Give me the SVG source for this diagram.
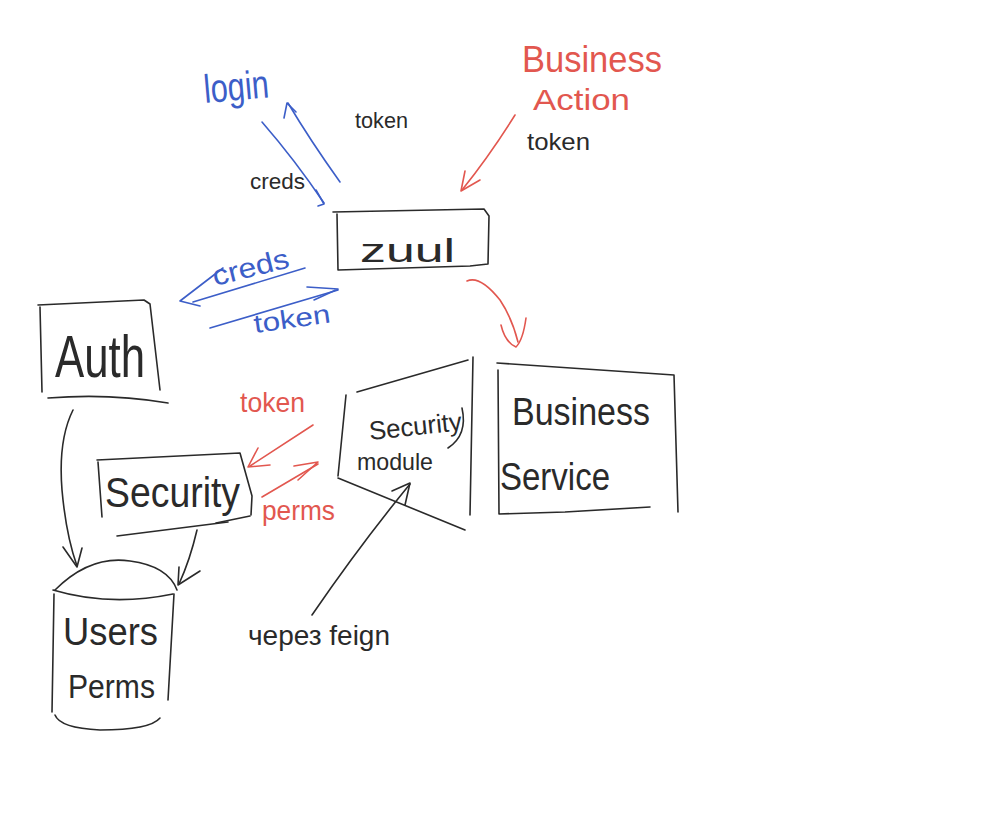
<svg xmlns="http://www.w3.org/2000/svg" width="1000" height="817" viewBox="0 0 1000 817">
<style>
.k{fill:none;stroke:#2a2a2a;stroke-width:1.6;stroke-linecap:round;stroke-linejoin:round}
.b{fill:none;stroke:#3c5ec8;stroke-width:1.6;stroke-linecap:round;stroke-linejoin:round}
.r{fill:none;stroke:#e2574f;stroke-width:1.6;stroke-linecap:round;stroke-linejoin:round}
text{font-family:"Liberation Sans","DejaVu Sans",sans-serif}
.tk{fill:#2a2a2a}
.tb{fill:#3c5ec8}
.tr{fill:#e2574f}
</style>
<rect width="1000" height="817" fill="#ffffff"/>

<g id="zuul">
<path class="k" d="M333 212 L484 209 L489 216 L488 264 L470 266 L338 270 L337 214"/>
<text class="tk" x="360" y="262" font-size="34" textLength="95" lengthAdjust="spacingAndGlyphs">zuul</text>
</g>

<g id="auth">
<path class="k" d="M38 305 L144 300 L150 304 L160 390"/>
<path class="k" d="M40 307 L42 392"/>
<path class="k" d="M48 398 Q110 393 168 403"/>
<text class="tk" x="55" y="377" font-size="60" textLength="90" lengthAdjust="spacingAndGlyphs">Auth</text>
</g>

<g id="security">
<path class="k" d="M97 460 L240 453 L252 496 L251 515"/>
<path class="k" d="M98 462 L102 517"/>
<path class="k" d="M117 536 L228 522"/>
<path class="k" d="M216 523 L250 516"/>
<text class="tk" x="105" y="507" font-size="42" textLength="135" lengthAdjust="spacingAndGlyphs">Security</text>
</g>

<g id="users-perms">
<path class="k" d="M55 590 Q90 555 130 561 Q168 566 177 590"/>
<path class="k" d="M53 590 Q110 607 173 594"/>
<path class="k" d="M54 594 L52 712"/>
<path class="k" d="M174 594 L168 700"/>
<path class="k" d="M55 715 Q60 728 100 730 Q150 730 160 718"/>
<text class="tk" x="63" y="645" font-size="38" textLength="95" lengthAdjust="spacingAndGlyphs">Users</text>
<text class="tk" x="68" y="698" font-size="34" textLength="87" lengthAdjust="spacingAndGlyphs">Perms</text>
</g>

<g id="security-module">
<path class="k" d="M346 395 L338 476"/>
<path class="k" d="M357 392 L468 360"/>
<path class="k" d="M473 357 L470 515"/>
<path class="k" d="M338 478 L465 530"/>
<path class="k" d="M462 408 Q468 435 448 448"/>
<text class="tk" x="370" y="440" font-size="26" textLength="93" lengthAdjust="spacingAndGlyphs" transform="rotate(-6 370 440)">Security</text>
<text class="tk" x="357" y="470" font-size="24" textLength="76" lengthAdjust="spacingAndGlyphs">module</text>
</g>

<g id="business-service">
<path class="k" d="M497 363 L674 375 L678 512"/>
<path class="k" d="M498 370 L499 514 L565 512 L650 507"/>
<text class="tk" x="512" y="425" font-size="38" textLength="138" lengthAdjust="spacingAndGlyphs">Business</text>
<text class="tk" x="500" y="490" font-size="38" textLength="110" lengthAdjust="spacingAndGlyphs">Service</text>
</g>

<g id="business-action">
<text class="tr" x="522" y="72" font-size="36" textLength="140" lengthAdjust="spacingAndGlyphs">Business</text>
<text class="tr" x="533" y="110" font-size="30" textLength="97" lengthAdjust="spacingAndGlyphs">Action</text>
</g>

<g id="login">
<text class="tb" x="205" y="103" font-size="40" textLength="65" lengthAdjust="spacingAndGlyphs" transform="rotate(-5 205 103)">login</text>
</g>

<g id="connectors">
<!-- login <-> zuul -->
<path class="b" d="M262 122 Q295 160 324 203"/>
<path class="b" d="M316 190 L324 204 L318 206"/>
<path class="b" d="M340 182 Q310 140 288 103"/>
<path class="b" d="M284 118 L287 103 L296 112"/>
<text class="tk" x="355" y="128" font-size="22" textLength="53" lengthAdjust="spacingAndGlyphs">token</text>
<text class="tk" x="250" y="189" font-size="22" textLength="55" lengthAdjust="spacingAndGlyphs">creds</text>

<!-- Business Action -> zuul -->
<path class="r" d="M515 115 Q490 155 462 190"/>
<path class="r" d="M465 171 L461 191 L480 180"/>
<text class="tk" x="527" y="150" font-size="24" textLength="63" lengthAdjust="spacingAndGlyphs">token</text>

<!-- zuul <-> Auth -->
<path class="b" d="M305 268 L193 302"/>
<path class="b" d="M223 268 L180 301 L200 306"/>
<path class="b" d="M210 328 L338 290"/>
<path class="b" d="M307 287 L338 289 L314 300"/>
<text class="tb" x="215" y="286" font-size="28" textLength="78" lengthAdjust="spacingAndGlyphs" transform="rotate(-14 215 286)">creds</text>
<text class="tb" x="255" y="333" font-size="26" textLength="77" lengthAdjust="spacingAndGlyphs" transform="rotate(-8 255 333)">token</text>

<!-- zuul -> Business Service -->
<path class="r" d="M467 281 Q480 275 500 300 Q512 318 518 342"/>
<path class="r" d="M501 325 Q505 342 516 347 Q523 340 526 318"/>

<!-- Security <-> Security module -->
<path class="r" d="M313 425 L250 466"/>
<path class="r" d="M258 448 L248 467 L270 465"/>
<path class="r" d="M262 497 L318 464"/>
<path class="r" d="M294 466 L318 462 L298 480"/>
<text class="tr" x="240" y="412" font-size="28" textLength="65" lengthAdjust="spacingAndGlyphs">token</text>
<text class="tr" x="262" y="520" font-size="28" textLength="73" lengthAdjust="spacingAndGlyphs">perms</text>

<!-- Auth -> Users Perms -->
<path class="k" d="M73 410 Q58 440 62 490 Q66 535 77 566"/>
<path class="k" d="M63 547 L77 567 L82 548"/>

<!-- Security -> Users Perms -->
<path class="k" d="M197 530 Q190 560 179 584"/>
<path class="k" d="M179 567 L178 585 L200 571"/>

<!-- feign -> Security module -->
<path class="k" d="M312 615 Q360 545 410 484"/>
<path class="k" d="M392 491 L410 483 L405 505"/>
<text class="tk" x="248" y="645" font-size="28" textLength="142" lengthAdjust="spacingAndGlyphs">через feign</text>
</g>
</svg>
